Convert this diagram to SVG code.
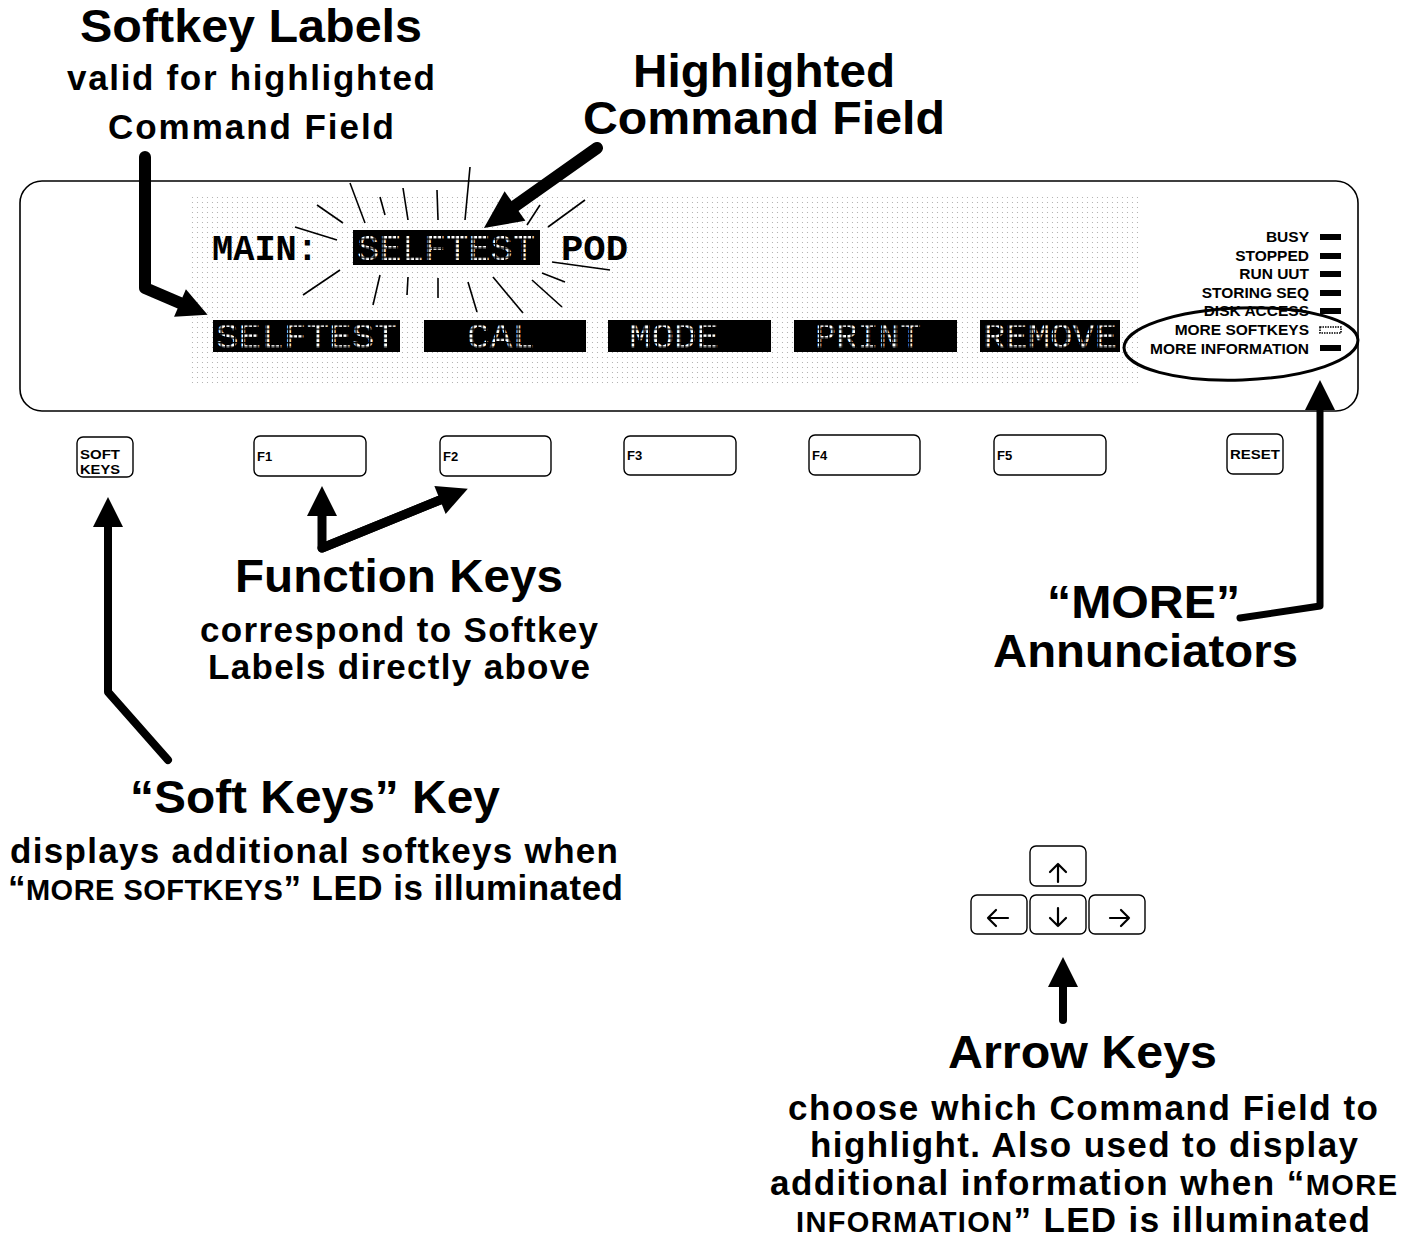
<svg xmlns="http://www.w3.org/2000/svg" width="1419" height="1239" viewBox="0 0 1419 1239">
  <style>
    .title { font-family: "Liberation Sans", Arial, sans-serif; font-weight: bold; font-size: 46px; fill: #000; }
    .sub { font-family: "Liberation Sans", Arial, sans-serif; font-weight: bold; font-size: 35px; fill: #000; }
    .caps { font-size: 29px; }
    .lcd { font-family: "Liberation Mono", "DejaVu Sans Mono", monospace; font-size: 37px; }
    .lcd-dark { fill: #000; font-weight: bold; }
    .lcd-lit { fill: #fff; }
    .ann { font-family: "Liberation Sans", Arial, sans-serif; font-weight: bold; font-size: 15.5px; fill: #000; text-anchor: end; }
    .keycap { fill: #fff; stroke: #000; stroke-width: 1.4; }
    .keylbl { font-family: "Liberation Sans", Arial, sans-serif; font-weight: bold; font-size: 13px; fill: #000; }
    .glyph { fill: none; stroke: #000; stroke-width: 2.2; stroke-linecap: round; stroke-linejoin: round; }
    .ray { stroke: #000; stroke-width: 1.6; fill: none; }
    .conn { fill: none; stroke: #000; stroke-linecap: round; stroke-linejoin: round; }
    .led { fill: #000; }
  </style>
  <defs>
    <!-- faint dot field of the LCD glass -->
    <pattern id="lcdDots" width="5" height="5" patternUnits="userSpaceOnUse">
      <circle cx="2.5" cy="2.5" r="0.6" fill="#8a8a8a"/>
    </pattern>
    <!-- dark grid that breaks lit characters into dots -->
    <pattern id="matrix" width="4.5" height="4.5" patternUnits="userSpaceOnUse">
      <path d="M0,0.7 H4.5 M0.7,0 V4.5" stroke="#000" stroke-width="1.4"/>
    </pattern>
    <marker id="head" viewBox="0 0 30 30" refX="0" refY="15" markerWidth="30" markerHeight="30" markerUnits="userSpaceOnUse" orient="auto" overflow="visible">
      <path d="M0,0 L30,15 L0,30 Z" fill="#000"/>
    </marker>
    <marker id="headLg" viewBox="0 0 38 36" refX="0" refY="18" markerWidth="38" markerHeight="36" markerUnits="userSpaceOnUse" orient="auto" overflow="visible">
      <path d="M0,0 L38,18 L0,36 Z" fill="#000"/>
    </marker>
  </defs>

  <rect width="1419" height="1239" fill="#fff"/>

  <!-- front panel display -->
  <g id="display">
    <rect x="20" y="181" width="1338" height="230" rx="22" fill="#fff" stroke="#000" stroke-width="1.6"/>
    <rect x="190" y="197" width="948" height="190" fill="url(#lcdDots)" opacity="0.75"/>

    <!-- command line -->
    <g id="command-line">
      <text class="lcd lcd-dark" x="212" y="260" textLength="106" lengthAdjust="spacingAndGlyphs">MAIN:</text>
      <rect x="353" y="230" width="187" height="35" fill="#000"/>
      <text class="lcd lcd-lit" x="357" y="260" textLength="178" lengthAdjust="spacingAndGlyphs">SELFTEST</text>
      <rect x="353" y="230" width="187" height="35" fill="url(#matrix)"/>
      <text class="lcd lcd-dark" x="561" y="260" textLength="67" lengthAdjust="spacingAndGlyphs">POD</text>
    </g>

    <!-- rays round the highlighted field -->
    <g id="highlight-rays">
      <line class="ray" x1="350" y1="183" x2="365" y2="223"/>
      <line class="ray" x1="380" y1="197" x2="385" y2="215"/>
      <line class="ray" x1="403" y1="188" x2="408" y2="220"/>
      <line class="ray" x1="437" y1="190" x2="438" y2="220"/>
      <line class="ray" x1="470" y1="167" x2="465" y2="220"/>
      <line class="ray" x1="317" y1="205" x2="343" y2="223"/>
      <line class="ray" x1="295" y1="227" x2="337" y2="240"/>
      <line class="ray" x1="540" y1="205" x2="527" y2="225"/>
      <line class="ray" x1="585" y1="200" x2="548" y2="227"/>
      <line class="ray" x1="340" y1="270" x2="303" y2="295"/>
      <line class="ray" x1="380" y1="275" x2="373" y2="305"/>
      <line class="ray" x1="408" y1="277" x2="407" y2="295"/>
      <line class="ray" x1="438" y1="278" x2="438" y2="298"/>
      <line class="ray" x1="468" y1="282" x2="477" y2="312"/>
      <line class="ray" x1="493" y1="277" x2="523" y2="313"/>
      <line class="ray" x1="532" y1="280" x2="562" y2="307"/>
      <line class="ray" x1="542" y1="273" x2="565" y2="282"/>
      <line class="ray" x1="552" y1="262" x2="610" y2="270"/>
    </g>

    <!-- softkey label row -->
    <g id="softkey-selftest">
      <rect x="213" y="320" width="187" height="32" fill="#000"/>
      <text class="lcd lcd-lit" x="216" y="348" textLength="181" lengthAdjust="spacingAndGlyphs">SELFTEST</text>
      <rect x="213" y="320" width="187" height="32" fill="url(#matrix)"/>
    </g>
    <g id="softkey-cal">
      <rect x="424" y="320" width="162" height="32" fill="#000"/>
      <text class="lcd lcd-lit" x="467" y="348" textLength="68" lengthAdjust="spacingAndGlyphs">CAL</text>
      <rect x="424" y="320" width="162" height="32" fill="url(#matrix)"/>
    </g>
    <g id="softkey-mode">
      <rect x="608" y="320" width="163" height="32" fill="#000"/>
      <text class="lcd lcd-lit" x="629" y="348" textLength="90" lengthAdjust="spacingAndGlyphs">MODE</text>
      <rect x="608" y="320" width="163" height="32" fill="url(#matrix)"/>
    </g>
    <g id="softkey-print">
      <rect x="794" y="320" width="163" height="32" fill="#000"/>
      <text class="lcd lcd-lit" x="815" y="348" textLength="106" lengthAdjust="spacingAndGlyphs">PRINT</text>
      <rect x="794" y="320" width="163" height="32" fill="url(#matrix)"/>
    </g>
    <g id="softkey-remove">
      <rect x="980" y="320" width="140" height="32" fill="#000"/>
      <text class="lcd lcd-lit" x="983" y="348" textLength="134" lengthAdjust="spacingAndGlyphs">REMOVE</text>
      <rect x="980" y="320" width="140" height="32" fill="url(#matrix)"/>
    </g>

    <!-- annunciator LEDs -->
    <g id="annunciators">
      <text class="ann" x="1309" y="242">BUSY</text>
      <rect class="led" x="1320" y="234" width="21" height="6"/>
      <text class="ann" x="1309" y="261">STOPPED</text>
      <rect class="led" x="1320" y="253" width="21" height="6"/>
      <text class="ann" x="1309" y="279">RUN UUT</text>
      <rect class="led" x="1320" y="271" width="21" height="6"/>
      <text class="ann" x="1309" y="298">STORING SEQ</text>
      <rect class="led" x="1320" y="290" width="21" height="6"/>
      <text class="ann" x="1309" y="316">DISK ACCESS</text>
      <rect class="led" x="1320" y="308" width="21" height="6"/>
      <text class="ann" x="1309" y="335">MORE SOFTKEYS</text>
      <rect x="1320" y="327" width="21" height="6" fill="#fff" stroke="#000" stroke-width="1.6" stroke-dasharray="1.5 1"/>
      <text class="ann" x="1309" y="354">MORE INFORMATION</text>
      <rect class="led" x="1320" y="345" width="21" height="6"/>
      <ellipse cx="1241" cy="344" rx="117" ry="36" fill="none" stroke="#000" stroke-width="3" transform="rotate(-2 1241 344)"/>
    </g>
  </g>

  <!-- keys below the display -->
  <g id="key-softkeys">
    <rect class="keycap" x="77" y="437" width="56" height="40" rx="6"/>
    <text class="keylbl" x="80" y="459" textLength="40" lengthAdjust="spacingAndGlyphs">SOFT</text>
    <text class="keylbl" x="80" y="474" textLength="40" lengthAdjust="spacingAndGlyphs">KEYS</text>
  </g>
  <g id="key-f1">
    <rect class="keycap" x="254" y="436" width="112" height="40" rx="6"/>
    <text class="keylbl" x="257" y="461">F1</text>
  </g>
  <g id="key-f2">
    <rect class="keycap" x="440" y="436" width="111" height="40" rx="6"/>
    <text class="keylbl" x="443" y="461">F2</text>
  </g>
  <g id="key-f3">
    <rect class="keycap" x="624" y="436" width="112" height="39" rx="6"/>
    <text class="keylbl" x="627" y="460">F3</text>
  </g>
  <g id="key-f4">
    <rect class="keycap" x="809" y="435" width="111" height="40" rx="6"/>
    <text class="keylbl" x="812" y="460">F4</text>
  </g>
  <g id="key-f5">
    <rect class="keycap" x="994" y="435" width="112" height="40" rx="6"/>
    <text class="keylbl" x="997" y="460">F5</text>
  </g>
  <g id="key-reset">
    <rect class="keycap" x="1227" y="434" width="56" height="40" rx="6"/>
    <text class="keylbl" x="1230" y="459" textLength="50" lengthAdjust="spacingAndGlyphs">RESET</text>
  </g>

  <!-- cursor keys -->
  <g id="key-up">
    <rect class="keycap" x="1030" y="846" width="56" height="40" rx="6"/>
    <path class="glyph" d="M1058,882 V864 M1050,872 L1058,864 L1066,872"/>
  </g>
  <g id="key-left">
    <rect class="keycap" x="971" y="895" width="56" height="39" rx="6"/>
    <path class="glyph" d="M1008,918 H988 M996,910 L988,918 L996,926"/>
  </g>
  <g id="key-down">
    <rect class="keycap" x="1030" y="895" width="56" height="39" rx="6"/>
    <path class="glyph" d="M1058,908 V926 M1050,918 L1058,926 L1066,918"/>
  </g>
  <g id="key-right">
    <rect class="keycap" x="1089" y="895" width="56" height="39" rx="6"/>
    <path class="glyph" d="M1110,918 H1129 M1121,910 L1129,918 L1121,926"/>
  </g>

  <!-- callout labels -->
  <g id="label-softkey-labels">
    <text class="title" x="80" y="42" textLength="342" lengthAdjust="spacingAndGlyphs">Softkey Labels</text>
    <text class="sub" x="67" y="90" textLength="368" lengthAdjust="spacing">valid for highlighted</text>
    <text class="sub" x="108" y="139" textLength="286" lengthAdjust="spacing">Command Field</text>
  </g>
  <g id="label-highlighted">
    <text class="title" x="633" y="87" textLength="262" lengthAdjust="spacingAndGlyphs">Highlighted</text>
    <text class="title" x="583" y="134" textLength="362" lengthAdjust="spacingAndGlyphs">Command Field</text>
  </g>
  <g id="label-function-keys">
    <text class="title" x="235" y="592" textLength="328" lengthAdjust="spacingAndGlyphs">Function Keys</text>
    <text class="sub" x="200" y="642" textLength="398" lengthAdjust="spacing">correspond to Softkey</text>
    <text class="sub" x="208" y="679" textLength="382" lengthAdjust="spacing">Labels directly above</text>
  </g>
  <g id="label-more">
    <text class="title" x="1047" y="618" textLength="193" lengthAdjust="spacingAndGlyphs">“MORE”</text>
    <text class="title" x="993" y="667" textLength="305" lengthAdjust="spacingAndGlyphs">Annunciators</text>
  </g>
  <g id="label-soft-keys-key">
    <text class="title" x="130" y="813" textLength="370" lengthAdjust="spacingAndGlyphs">“Soft Keys” Key</text>
    <text class="sub" x="10" y="863" textLength="608" lengthAdjust="spacing">displays additional softkeys when</text>
    <text class="sub" x="8" y="900" textLength="615" lengthAdjust="spacing">“<tspan class="caps">MORE SOFTKEYS</tspan>” LED is illuminated</text>
  </g>
  <g id="label-arrow-keys">
    <text class="title" x="948" y="1068" textLength="269" lengthAdjust="spacingAndGlyphs">Arrow Keys</text>
    <text class="sub" x="788" y="1120" textLength="590" lengthAdjust="spacing">choose which Command Field to</text>
    <text class="sub" x="810" y="1157" textLength="548" lengthAdjust="spacing">highlight. Also used to display</text>
    <text class="sub" x="770" y="1195" textLength="627" lengthAdjust="spacing">additional information when “<tspan class="caps">MORE</tspan></text>
    <text class="sub" x="796" y="1232" textLength="574" lengthAdjust="spacing"><tspan class="caps">INFORMATION</tspan>” LED is illuminated</text>
  </g>

  <!-- pointer arrows -->
  <g id="connectors">
    <polyline class="conn" stroke-width="12" points="145,157 145,288 180,303" marker-end="url(#head)"/>
    <line class="conn" stroke-width="12" x1="597" y1="148" x2="515" y2="206" marker-end="url(#headLg)"/>
    <polyline class="conn" stroke-width="9" points="440,500 322,548 322,516" marker-end="url(#head)"/>
    <line class="conn" stroke-width="9" x1="322" y1="548" x2="440" y2="500" marker-end="url(#head)"/>
    <polyline class="conn" stroke-width="8" points="168,760 108,692 108,527" marker-end="url(#head)"/>
    <polyline class="conn" stroke-width="7" points="1240,618 1320,606 1320,410" marker-end="url(#head)"/>
    <line class="conn" stroke-width="8" x1="1063" y1="1020" x2="1063" y2="987" marker-end="url(#head)"/>
  </g>
</svg>
